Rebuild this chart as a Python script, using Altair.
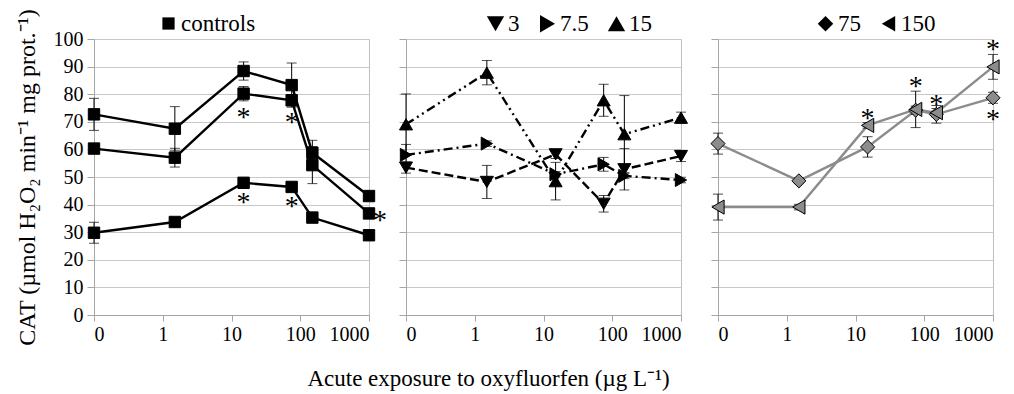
import altair as alt
import pandas as pd

FONT = "Liberation Serif"

# Oxyfluorfen concentrations (µg/L); 0 gets its own slot left of the log decades
doses = [0, 1.5, 15, 75, 150, 1000]
tick_positions = [0, 1, 2, 3, 4]
tick_labels = ["0", "1", "10", "100", "1000"]

# Controls (three control groups)
ctrl_a = [72.7, 67.5, 88.4, 83.3, 58.8, 43.1]
ctrl_a_err = [5.8, 8.0, 3.3, 8.0, 4.5, 1.5]
ctrl_b = [60.3, 57.0, 80.2, 77.8, 54.3, 36.8]
ctrl_b_err = [1.0, 3.4, 2.6, 2.0, 6.7, 1.0]
ctrl_c = [29.8, 33.7, 47.9, 46.4, 35.3, 28.9]
ctrl_c_err = [3.8, 1.0, 1.0, 1.0, 1.0, 1.0]

# Pre-exposure 3, 7.5, 15
pre3 = [53.4, 48.2, 58.2, 40.3, 52.8, 57.6]
pre3_err = [2.0, 6.0, 1.5, 3.0, 7.5, 2.0]
pre7 = [58.0, 62.1, 51.0, 54.6, 50.4, 48.9]
pre7_err = [3.8, 1.0, 1.0, 2.5, 1.0, 1.0]
pre15 = [69.1, 87.8, 48.5, 77.8, 65.5, 71.5]
pre15_err = [11.0, 4.4, 6.8, 5.8, 14.0, 2.0]

# Pre-exposure 75, 150
pre75 = [62.1, 48.6, 60.9, 74.2, 72.7, 78.7]
pre75_err = [3.8, 1.0, 3.7, 1.5, 3.2, 2.0]
pre150 = [39.1, 39.1, 68.7, 74.5, 73.3, 89.9]
pre150_err = [4.7, 1.0, 1.0, 6.6, 1.5, 4.5]

# Significance marks: series, dose, side of the point
star_series = ["ctrl_b", "ctrl_b", "ctrl_c", "ctrl_c", "ctrl_b",
               "pre150", "pre150", "pre150", "pre150", "pre75"]
star_dose = [15, 75, 15, 75, 1000, 15, 75, 150, 1000, 1000]
star_side = ["below", "below", "below", "below", "right",
             "above", "above", "above", "above", "below"]

series = {
    "ctrl_a": (1, "controls", ctrl_a, ctrl_a_err),
    "ctrl_b": (1, "controls", ctrl_b, ctrl_b_err),
    "ctrl_c": (1, "controls", ctrl_c, ctrl_c_err),
    "pre3": (2, "3", pre3, pre3_err),
    "pre7": (2, "7.5", pre7, pre7_err),
    "pre15": (2, "15", pre15, pre15_err),
    "pre75": (3, "75", pre75, pre75_err),
    "pre150": (3, "150", pre150, pre150_err),
}

rows = []
for sid, (panel, group, vals, errs) in series.items():
    for d, v, e in zip(doses, vals, errs):
        rows.append(dict(panel=panel, group=group, line=sid, dose=d, value=v, err=e))
data = pd.DataFrame(rows)

star_rows = []
for sid, d, side in zip(star_series, star_dose, star_side):
    panel, group, vals, errs = series[sid]
    i = doses.index(d)
    star_rows.append(dict(panel=panel, dose=d, value=vals[i], err=errs[i], side=side))
stars = pd.DataFrame(star_rows)

POS = "datum.dose == 0 ? 0 : 1 + log(datum.dose) / LN10"
LABEL_EXPR = "[" + ",".join("'%s'" % t for t in tick_labels) + "][datum.value]"

GRID = "#c8c8c8"
AXIS = "#a6a6a6"


def make_panel(pid, domain, shapes, marker_size, line_color, fill, legend_x,
               legend_size, show_y, dashes=None):
    xaxis = alt.Axis(values=tick_positions, labelExpr=LABEL_EXPR, title=None,
                     grid=False, tickSize=6, tickColor=AXIS, domainColor=AXIS,
                     labelFont=FONT, labelFontSize=20, labelColor="black",
                     labelPadding=3)
    x = alt.X("pos:Q", scale=alt.Scale(domain=[0, 4], nice=False, zero=False),
              axis=xaxis)
    yaxis = alt.Axis(values=list(range(0, 101, 10)), grid=True, gridColor=GRID,
                     tickSize=7, tickColor=AXIS, domainColor=AXIS,
                     labels=show_y, labelFont=FONT, labelFontSize=20,
                     labelColor="black", labelPadding=4,
                     title="CAT (µmol H₂O₂ min⁻¹ mg prot.⁻¹)" if show_y else None,
                     titleFont=FONT, titleFontSize=24, titleFontWeight="normal",
                     titleColor="black", titlePadding=14)
    yscale = alt.Scale(domain=[0, 100], nice=False)

    base = (alt.Chart(data)
            .transform_filter(alt.datum.panel == pid)
            .transform_calculate(pos=POS, lo="datum.value - datum.err",
                                 hi="datum.value + datum.err"))

    enc = dict(x=x, y=alt.Y("value:Q", scale=yscale, axis=yaxis), detail="line:N")
    if dashes is not None:
        enc["strokeDash"] = alt.StrokeDash(
            "line:N", scale=alt.Scale(domain=list(dashes.keys()),
                                      range=list(dashes.values())),
            legend=None)
    lines = base.mark_line(color=line_color, strokeWidth=2.4).encode(**enc)

    bars = base.mark_rule(color="black", strokeWidth=1).encode(
        x=x, y=alt.Y("lo:Q", scale=yscale, axis=yaxis), y2="hi:Q")
    cap_lo = base.mark_tick(orient="horizontal", size=10, thickness=1,
                            color="black").encode(
        x=x, y=alt.Y("lo:Q", scale=yscale, axis=yaxis))
    cap_hi = base.mark_tick(orient="horizontal", size=10, thickness=1,
                            color="black").encode(
        x=x, y=alt.Y("hi:Q", scale=yscale, axis=yaxis))

    shape_scale = alt.Scale(domain=domain, range=shapes)
    legend = alt.Legend(
        title=None, orient="none", legendX=legend_x, legendY=-27,
        direction="horizontal", labelFont=FONT, labelFontSize=23,
        labelColor="black", symbolSize=legend_size, labelOffset=1,
        columnPadding=16, padding=0, symbolStrokeWidth=0, symbolOpacity=1)

    # data markers (legend drawn from the black key layer below)
    points = base.mark_point(filled=True, size=marker_size, fill=fill,
                             stroke="black", strokeWidth=1, opacity=1).encode(
        x=x, y=alt.Y("value:Q", scale=yscale, axis=yaxis),
        shape=alt.Shape("group:N", scale=shape_scale, legend=None))
    key = (base.transform_filter("false")
           .mark_point(filled=True, color="black", opacity=1)
           .encode(x=x, y=alt.Y("value:Q", scale=yscale, axis=yaxis),
                   shape=alt.Shape("group:N", scale=shape_scale, legend=legend)))

    star_base = (alt.Chart(stars)
                 .transform_filter(alt.datum.panel == pid)
                 .transform_calculate(pos=POS, lo="datum.value - datum.err",
                                      hi="datum.value + datum.err"))
    star_style = dict(text="*", font=FONT, fontSize=28, color="black",
                      align="center", baseline="middle")
    layers = [key, lines, bars, cap_lo, cap_hi, points]
    for side, field, dx, dy in [("below", "lo", 0, 17), ("above", "hi", 0, -4),
                                ("right", "value", 11, 8)]:
        layers.append(
            star_base.transform_filter(alt.datum.side == side)
            .mark_text(dx=dx, dy=dy, **star_style)
            .encode(x=x, y=alt.Y(field + ":Q", scale=yscale, axis=yaxis)))
    return alt.layer(*layers).properties(width=275, height=276)


p1 = make_panel(1, ["controls"], ["square"], 130, "black", "black", 63, 150, True)
p2 = make_panel(2, ["3", "7.5", "15"], ["triangle-down", "triangle-right", "triangle-up"],
                170, "black", "black", 78, 300, False,
                dashes={"pre3": [9, 4], "pre7": [9, 4, 2, 4], "pre15": [9, 4, 2, 4, 2, 4]})
p3 = make_panel(3, ["75", "150"], ["diamond", "triangle-left"], 200, "#8c8c8c",
                "#8c8c8c", 96, 240, False)

chart = (alt.hconcat(p1, p2, p3, spacing=37, bounds="flush")
         .resolve_scale(shape="independent", strokeDash="independent")
         .resolve_legend(shape="independent")
         .properties(
             title=alt.TitleParams("Acute exposure to oxyfluorfen (µg L⁻¹)",
                                   orient="bottom", anchor="middle", font=FONT,
                                   fontSize=23, fontWeight="normal",
                                   color="black", dx=-20, offset=22),
             padding={"left": 14, "top": 8, "right": 0, "bottom": 2},
             background="white")
         .configure_axis(labelFont=FONT, titleFont=FONT)
         .configure_legend(labelFont=FONT)
         .configure_text(font=FONT)
         .configure_title(font=FONT)
         .configure_view(stroke="#bfbfbf", strokeWidth=1))

chart.save("out.html", embed_options={"renderer": "svg", "actions": False})
